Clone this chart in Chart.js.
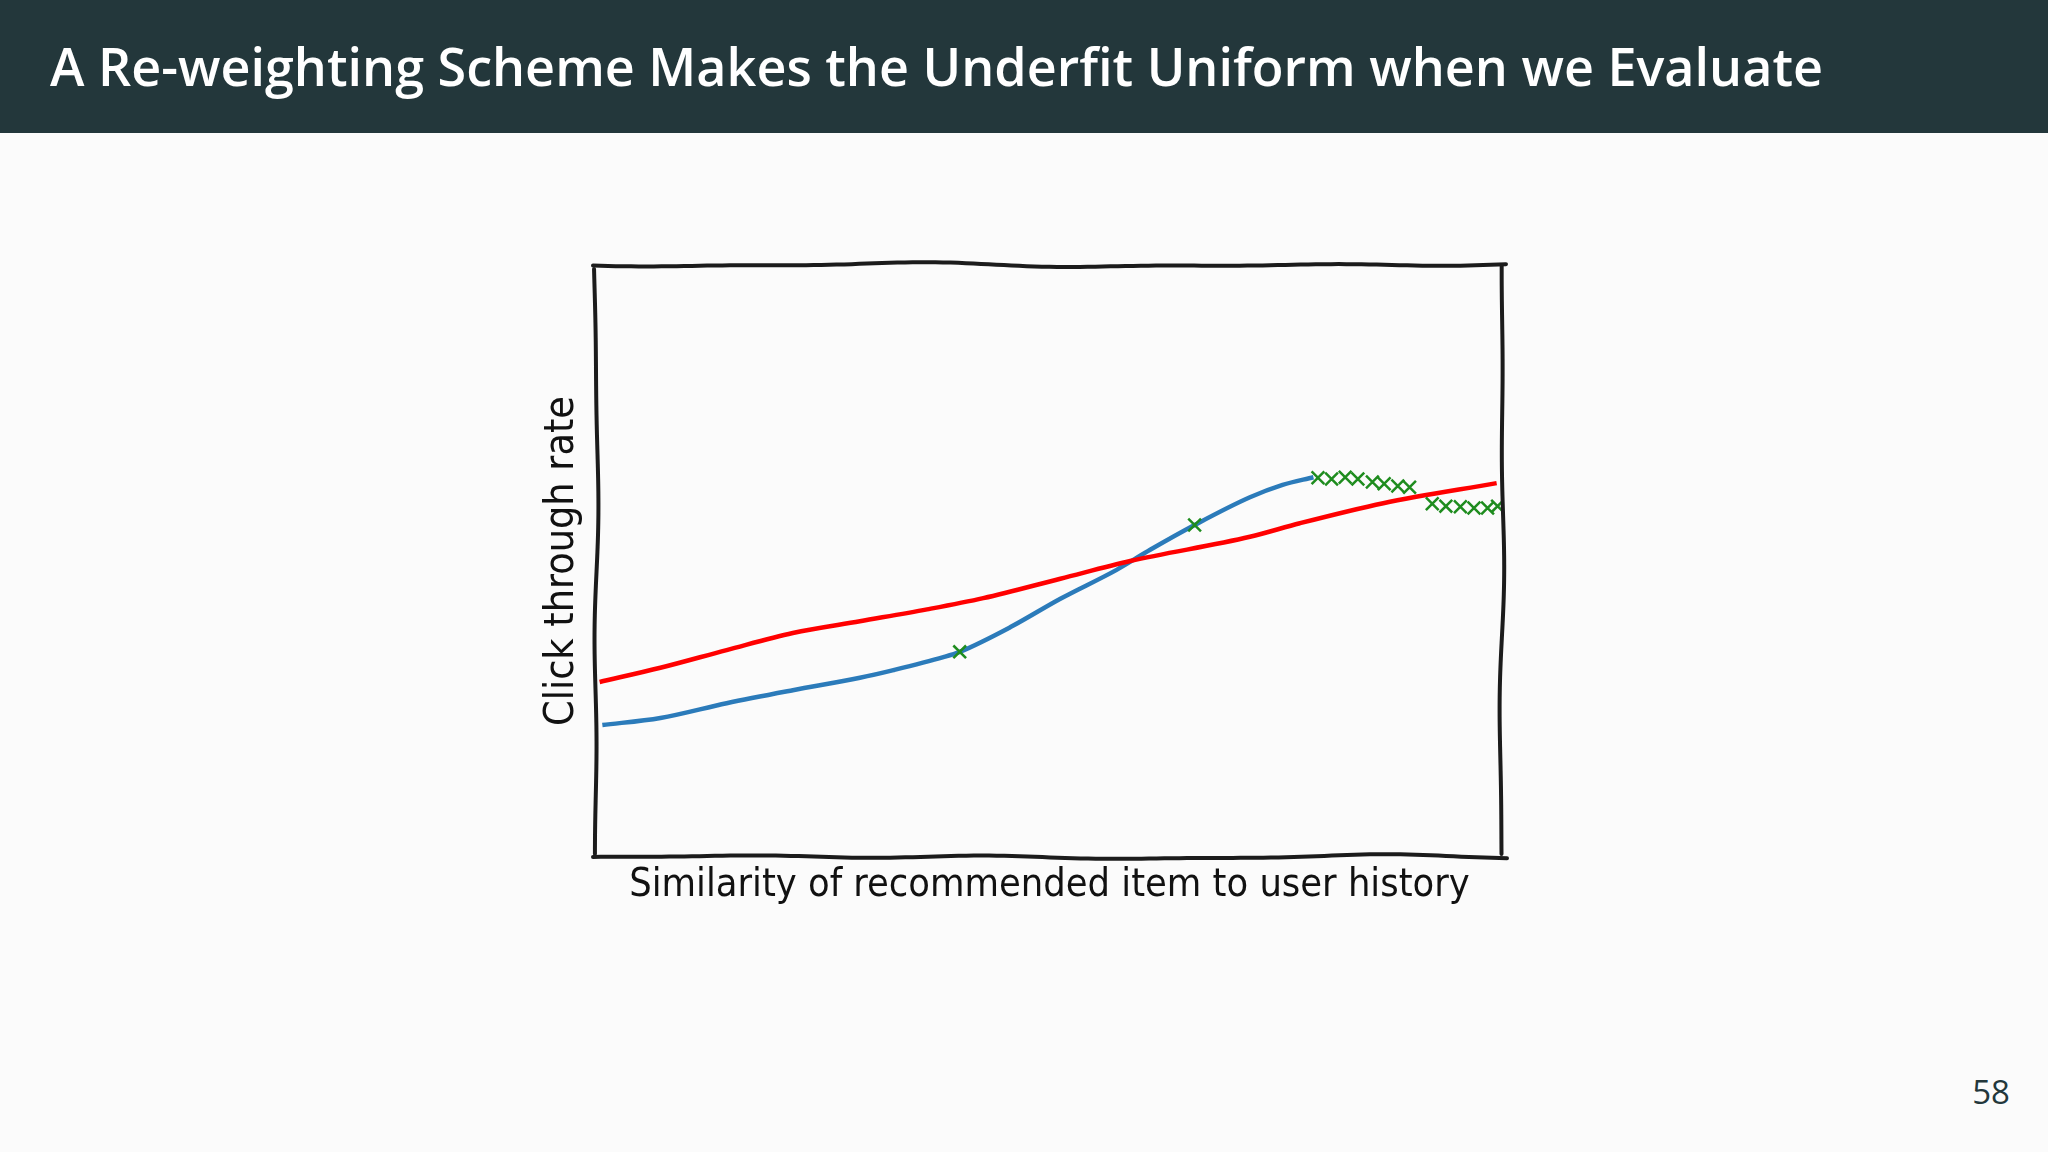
<!DOCTYPE html>
<html>
<head>
<meta charset="utf-8">
<script src="https://cdn.jsdelivr.net/npm/chart.js@4.4.0/dist/chart.umd.min.js"></script>
<style>
  html, body { margin: 0; padding: 0; width: 2048px; height: 1152px; overflow: hidden; background: #fbfbfb; }
  #header { position: absolute; left: 0; top: 0; width: 2048px; height: 133px; background: #23373b; z-index: 2; }
  #title { position: absolute; left: 50px; top: 39px; font-family: "Open Sans", sans-serif; font-weight: 600; font-size: 53px; line-height: 53px; color: #ffffff; white-space: nowrap; transform-origin: 0 0; }
  #pagenum { position: absolute; right: 38px; top: 1075px; font-family: "Open Sans", sans-serif; font-size: 33px; line-height: 33px; color: #23373b; }
  #wrap { position: absolute; left: 0; top: 0; width: 2048px; height: 1152px; z-index: 1; }
</style>
</head>
<body>
<div id="header"><div id="title">A Re-weighting Scheme Makes the Underfit Uniform when we Evaluate</div></div>
<div id="pagenum">58</div>
<div id="wrap"><canvas id="c" width="2048" height="1152"></canvas></div>
<script>
// ---- data (x: similarity, y: click-through rate, both on a 0..1 scale) ----
const blueX = [0.007, 0.071, 0.144, 0.217, 0.291, 0.328, 0.383, 0.401, 0.457, 0.512, 0.574, 0.611, 0.660, 0.721, 0.757, 0.791];
const blueY = [0.222, 0.234, 0.259, 0.281, 0.302, 0.315, 0.337, 0.346, 0.388, 0.436, 0.485, 0.519, 0.561, 0.608, 0.629, 0.642];
const redX  = [0.004, 0.071, 0.144, 0.217, 0.291, 0.365, 0.427, 0.512, 0.589, 0.721, 0.776, 0.868, 0.993];
const redY  = [0.295, 0.319, 0.349, 0.378, 0.398, 0.418, 0.437, 0.470, 0.500, 0.541, 0.564, 0.598, 0.632];
const markX = [0.401, 0.660, 0.796, 0.811, 0.826, 0.840, 0.856, 0.869, 0.884, 0.897, 0.922, 0.937, 0.953, 0.968, 0.983, 0.994];
const markY = [0.346, 0.561, 0.641, 0.639, 0.642, 0.639, 0.634, 0.631, 0.627, 0.625, 0.597, 0.593, 0.592, 0.590, 0.590, 0.593];
const xTitle = 'Similarity of recommended item to user history';
const yTitle = 'Click through rate';

// fit header title width
(function () {
  const t = document.getElementById('title');
  const w = t.getBoundingClientRect().width;
  t.style.transform = 'scaleX(' + (1773 / w) + ')';
})();

const pts = (xs, ys) => xs.map((x, i) => ({ x: x, y: ys[i] }));

const family = '"DejaVu Sans Condensed", "DejaVu Sans", sans-serif';
function fitSize(text, target) {
  const m = document.createElement('canvas').getContext('2d');
  m.font = '100px ' + family;
  return 100 * target / m.measureText(text).width;
}
const fx = fitSize(xTitle, 841);
const fy = fitSize(yTitle, 330);

// chart area target: left 596, right 1503, top 266, bottom 856
const yCenter = 562, xCenter = 886;

const wobbleFrame = {
  id: 'wobbleFrame',
  afterDatasetsDraw(chart) {
    const { ctx, chartArea: a } = chart;
    ctx.save();
    ctx.strokeStyle = '#1c1c1c';
    ctx.lineWidth = 4;
    ctx.lineCap = 'round';
    function seg(x0, y0, x1, y1, ph) {
      const len = Math.hypot(x1 - x0, y1 - y0);
      const nx = -(y1 - y0) / len, ny = (x1 - x0) / len;
      ctx.beginPath();
      const n = 120;
      for (let i = 0; i <= n; i++) {
        const t = i / n;
        const d = 2.2 * Math.sin(t * len / 70 + ph) * Math.sin(t * len / 260 + ph * 0.7) + 0.8 * Math.sin(t * len / 33 + ph * 1.9);
        const px = x0 + (x1 - x0) * t + nx * d;
        const py = y0 + (y1 - y0) * t + ny * d;
        if (i === 0) ctx.moveTo(px, py); else ctx.lineTo(px, py);
      }
      ctx.stroke();
    }
    seg(a.left - 3, a.top - 1, a.right + 3, a.top - 1, 0.3);
    seg(a.left, a.top + 3, a.left, a.bottom - 2, 1.7);
    seg(a.left - 3, a.bottom + 1, a.right + 4, a.bottom + 1, 2.9);
    seg(a.right - 1, a.top, a.right - 1, a.bottom - 2, 4.1);
    ctx.restore();
  }
};

new Chart(document.getElementById('c'), {
  type: 'scatter',
  data: {
    datasets: [
      { data: pts(blueX, blueY), showLine: true, borderColor: '#2b7bba', borderWidth: 4.5, pointRadius: 0, cubicInterpolationMode: 'monotone', order: 2 },
      { data: pts(redX, redY), showLine: true, borderColor: '#ff0000', borderWidth: 4.5, pointRadius: 0, cubicInterpolationMode: 'monotone', order: 1 },
      { data: pts(markX, markY), showLine: false, pointStyle: 'crossRot', pointRadius: 9, pointBorderWidth: 2.5, borderColor: '#1e8c1e', backgroundColor: '#1e8c1e', order: 0 }
    ]
  },
  options: {
    responsive: false,
    animation: false,
    events: [],
    layout: { padding: { left: yCenter - fy / 2, right: 2048 - 1503, top: 266, bottom: 1152 - (xCenter + fx / 2) } },
    plugins: { legend: { display: false }, tooltip: { enabled: false } },
    scales: {
      x: {
        type: 'linear', min: 0, max: 1,
        grid: { display: false, drawTicks: false, tickLength: 0 }, border: { display: false }, ticks: { display: false, padding: 0 },
        title: { display: true, text: xTitle, color: '#111111', font: { family: family, size: fx, lineHeight: 1 }, padding: { top: (xCenter - 856) - fx / 2, bottom: 0 } }
      },
      y: {
        type: 'linear', min: 0, max: 1,
        grid: { display: false, drawTicks: false, tickLength: 0 }, border: { display: false }, ticks: { display: false, padding: 0 },
        title: { display: true, text: yTitle, color: '#111111', font: { family: family, size: fy, lineHeight: 1 }, padding: { top: 0, bottom: 596 - yCenter - fy / 2 } }
      }
    }
  },
  plugins: [wobbleFrame]
});
</script>
</body>
</html>
